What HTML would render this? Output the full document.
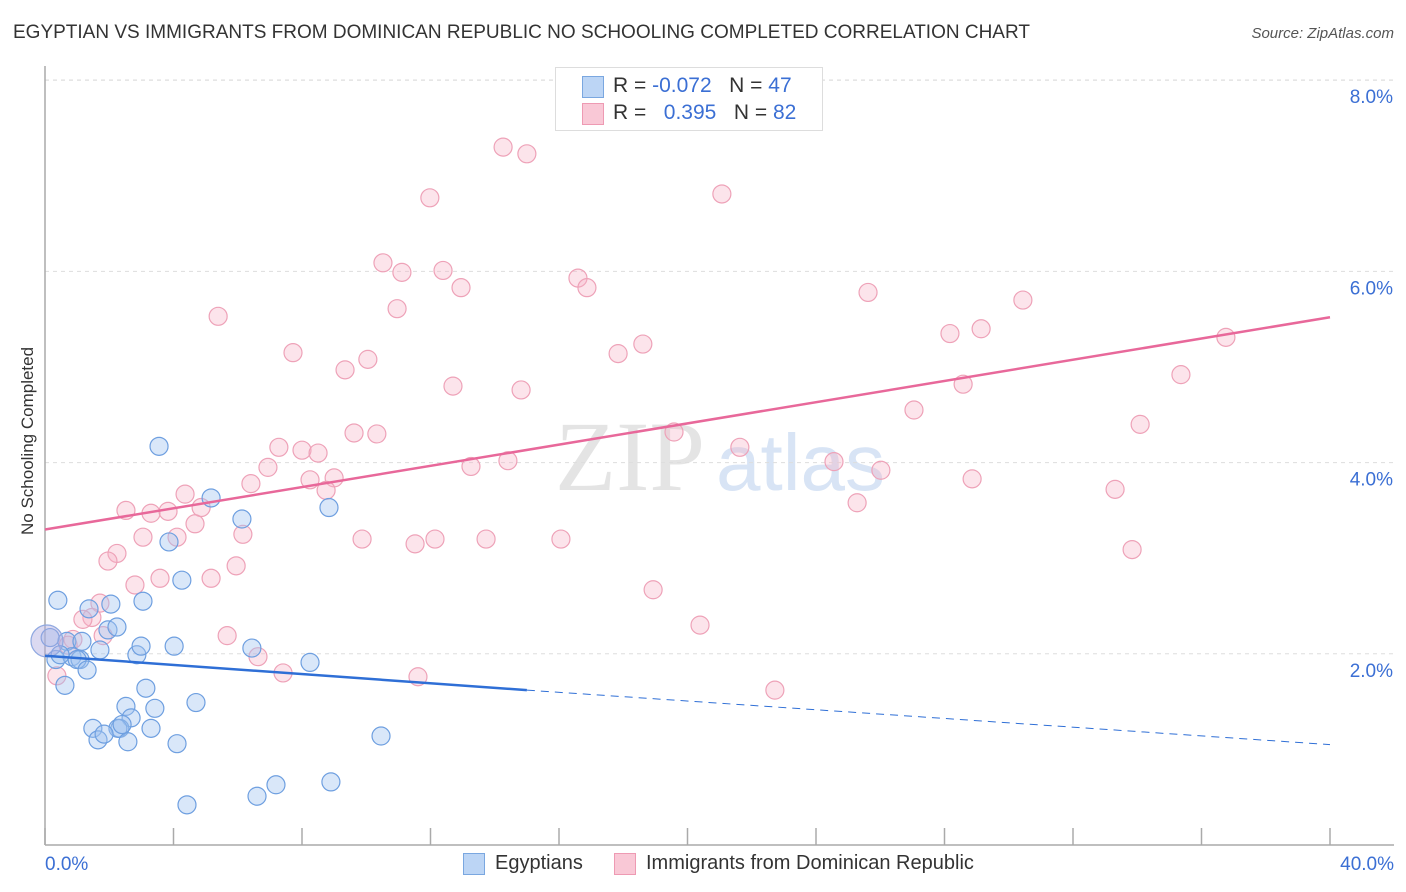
<!DOCTYPE html>
<html><head><meta charset="utf-8"><style>
body{margin:0;background:#fff;font-family:"Liberation Sans",sans-serif;}
#wrap{position:relative;width:1406px;height:892px;overflow:hidden;}
.t{position:absolute;white-space:nowrap;}
</style></head><body>
<div id="wrap">
<div class="t" style="left:13px;top:22px;font-size:19px;color:#333;">EGYPTIAN VS IMMIGRANTS FROM DOMINICAN REPUBLIC NO SCHOOLING COMPLETED CORRELATION CHART</div>
<div class="t" style="right:12px;top:25px;font-size:15px;color:#555;font-style:italic;">Source: ZipAtlas.com</div>
<div class="t" style="left:-52px;top:445px;font-size:17px;color:#333;transform:rotate(-90deg);transform-origin:center;width:160px;text-align:center;">No Schooling Completed</div>
<svg id="svg" width="1406" height="892" style="position:absolute;left:0;top:0;"></svg>
<div style="position:absolute;left:555px;top:67px;width:266px;height:62px;border:1px solid #ddd;background:#fff;font-size:21px;">
 <div style="position:absolute;left:26px;top:8px;width:20px;height:20px;background:#bcd5f5;border:1px solid #7aa7e0;"></div>
 <div class="t" style="left:57px;top:6px;color:#333;">R = <span style="color:#3b6fd4">-0.072</span>&nbsp;&nbsp;&nbsp;N = <span style="color:#3b6fd4">47</span></div>
 <div style="position:absolute;left:26px;top:35px;width:20px;height:20px;background:#f9c8d6;border:1px solid #ee9ab3;"></div>
 <div class="t" style="left:57px;top:33px;color:#333;">R = &nbsp;&nbsp;<span style="color:#3b6fd4">0.395</span>&nbsp;&nbsp;&nbsp;N = <span style="color:#3b6fd4">82</span></div>
</div>
<div>
 <div style="position:absolute;left:463px;top:853px;width:20px;height:20px;background:#bcd5f5;border:1px solid #7aa7e0;"></div>
 <div class="t" style="left:495px;top:852px;font-size:20px;color:#333;">Egyptians</div>
 <div style="position:absolute;left:614px;top:853px;width:20px;height:20px;background:#f9c8d6;border:1px solid #ee9ab3;"></div>
 <div class="t" style="left:646px;top:852px;font-size:20px;color:#333;">Immigrants from Dominican Republic</div>
</div>
</div>
<script>
const xTicks=[0,4,8,12,16,20,24,28,32,36,40];
const yTicks=[2,4,6,8];
const bluePts=[[58,600],[89,609],[111,604],[143,601],[108,630],[117,627],[67,641],[82,641],[100,650],[137,655],[141,646],[174,646],[56,660],[72,657],[80,660],[77,660],[87,670],[65,685],[146,688],[126,706],[155,708],[131,718],[93,728],[120,728],[118,728],[151,728],[98,740],[128,742],[177,744],[196,703],[252,648],[310,662],[381,736],[187,805],[257,796],[276,785],[331,782],[159,446],[211,498],[242,519],[329,508],[169,542],[182,580],[50,638],[104,734],[122,725],[60,655]];
const pinkPts=[[503,147],[527,154],[430,198],[722,194],[383,263],[402,272],[443,270],[461,288],[578,278],[587,288],[868,292],[1023,300],[218,316],[397,309],[950,334],[981,329],[1226,337],[643,344],[618,354],[293,353],[368,359],[345,370],[453,386],[521,390],[1181,375],[963,384],[914,410],[1140,424],[354,433],[377,434],[279,447],[302,450],[318,453],[674,432],[740,447],[268,467],[471,466],[508,461],[834,462],[881,470],[972,479],[1115,489],[310,480],[334,478],[326,490],[251,484],[185,494],[857,503],[126,510],[201,508],[151,513],[168,511],[195,524],[243,534],[143,537],[177,537],[362,539],[415,544],[435,539],[486,539],[561,539],[1132,550],[117,553],[108,561],[236,566],[135,585],[160,578],[211,578],[653,590],[100,603],[92,617],[83,619],[73,639],[103,636],[68,645],[227,636],[258,657],[283,673],[700,625],[418,677],[775,690],[57,676]];
const blueX=bluePts.map(p=>+((p[0]-45)/32.125).toFixed(2)), blueY=bluePts.map(p=>+((845-p[1])/95.6).toFixed(2));
const pinkX=pinkPts.map(p=>+((p[0]-45)/32.125).toFixed(2)), pinkY=pinkPts.map(p=>+((845-p[1])/95.6).toFixed(2));
const pinkTrend=[3.3,5.52];
const blueTrend=[1.98,1.62,1.05];
const X=v=>45+v*32.125, Y=v=>845-v*95.6;
const svg=document.getElementById('svg');const NS='http://www.w3.org/2000/svg';
function mk(t,a){const e=document.createElementNS(NS,t);for(const k in a)e.setAttribute(k,a[k]);svg.appendChild(e);return e;}
const wm=mk('text',{x:555,y:490,'font-size':100,fill:'#e4e4e4','font-family':'Liberation Serif',});wm.textContent='ZIP';


const wm2=mk('text',{x:716,y:490,'font-size':80,fill:'#d8e4f5','font-family':'Liberation Sans'});wm2.textContent='atlas';


mk('line',{x1:45,y1:80,x2:1394,y2:80,stroke:'#ddd','stroke-dasharray':'4,4'});
yTicks.forEach(v=>{const g=mk('line',{x1:45,y1:Y(v),x2:1394,y2:Y(v),stroke:'#ddd','stroke-dasharray':'4,4'});


const t=mk('text',{x:1393,y:Y(v)+23,'text-anchor':'end','font-size':19,fill:'#3b6fd4','font-family':'Liberation Sans'});t.textContent=v.toFixed(1)+'%';

});
mk('line',{x1:45,y1:66,x2:45,y2:845,stroke:'#aaa','stroke-width':1.5});
mk('line',{x1:45,y1:845,x2:1394,y2:845,stroke:'#aaa','stroke-width':1.5});
xTicks.forEach(v=>{const l=mk('line',{x1:X(v),y1:828,x2:X(v),y2:845,stroke:'#aaa','stroke-width':1.5});

});
[[0,'0.0%',45,'start'],[40,'40.0%',1394,'end']].forEach(a=>{const t=mk('text',{x:a[2],y:870,'text-anchor':a[3],'font-size':19,fill:'#3b6fd4','font-family':'Liberation Sans'});t.textContent=a[1];

});
pinkX.forEach((x,i)=>{const c=mk('circle',{cx:X(x),cy:Y(pinkY[i]),r:9,fill:'rgba(246,178,198,0.35)',stroke:'#eea2b8','stroke-width':1.2});

});
blueX.forEach((x,i)=>{const c=mk('circle',{cx:X(x),cy:Y(blueY[i]),r:9,fill:'rgba(160,196,240,0.4)',stroke:'#6e9fe0','stroke-width':1.2});

});
const big=mk('circle',{cx:47,cy:641,r:16,fill:'rgba(175,170,225,0.45)',stroke:'#8fa8e0','stroke-width':1.2});


const pl=mk('line',{x1:X(0),y1:Y(pinkTrend[0]),x2:X(40),y2:Y(pinkTrend[1]),stroke:'#e8689a','stroke-width':2.5});


const bl=mk('line',{x1:X(0),y1:Y(blueTrend[0]),x2:X(15),y2:Y(blueTrend[1]),stroke:'#2f6fd6','stroke-width':2.5});


const bd=mk('line',{x1:X(15),y1:Y(blueTrend[1]),x2:X(40),y2:Y(blueTrend[2]),stroke:'#2f6fd6','stroke-width':1,'stroke-dasharray':'8,6'});


</script>
</body></html>
